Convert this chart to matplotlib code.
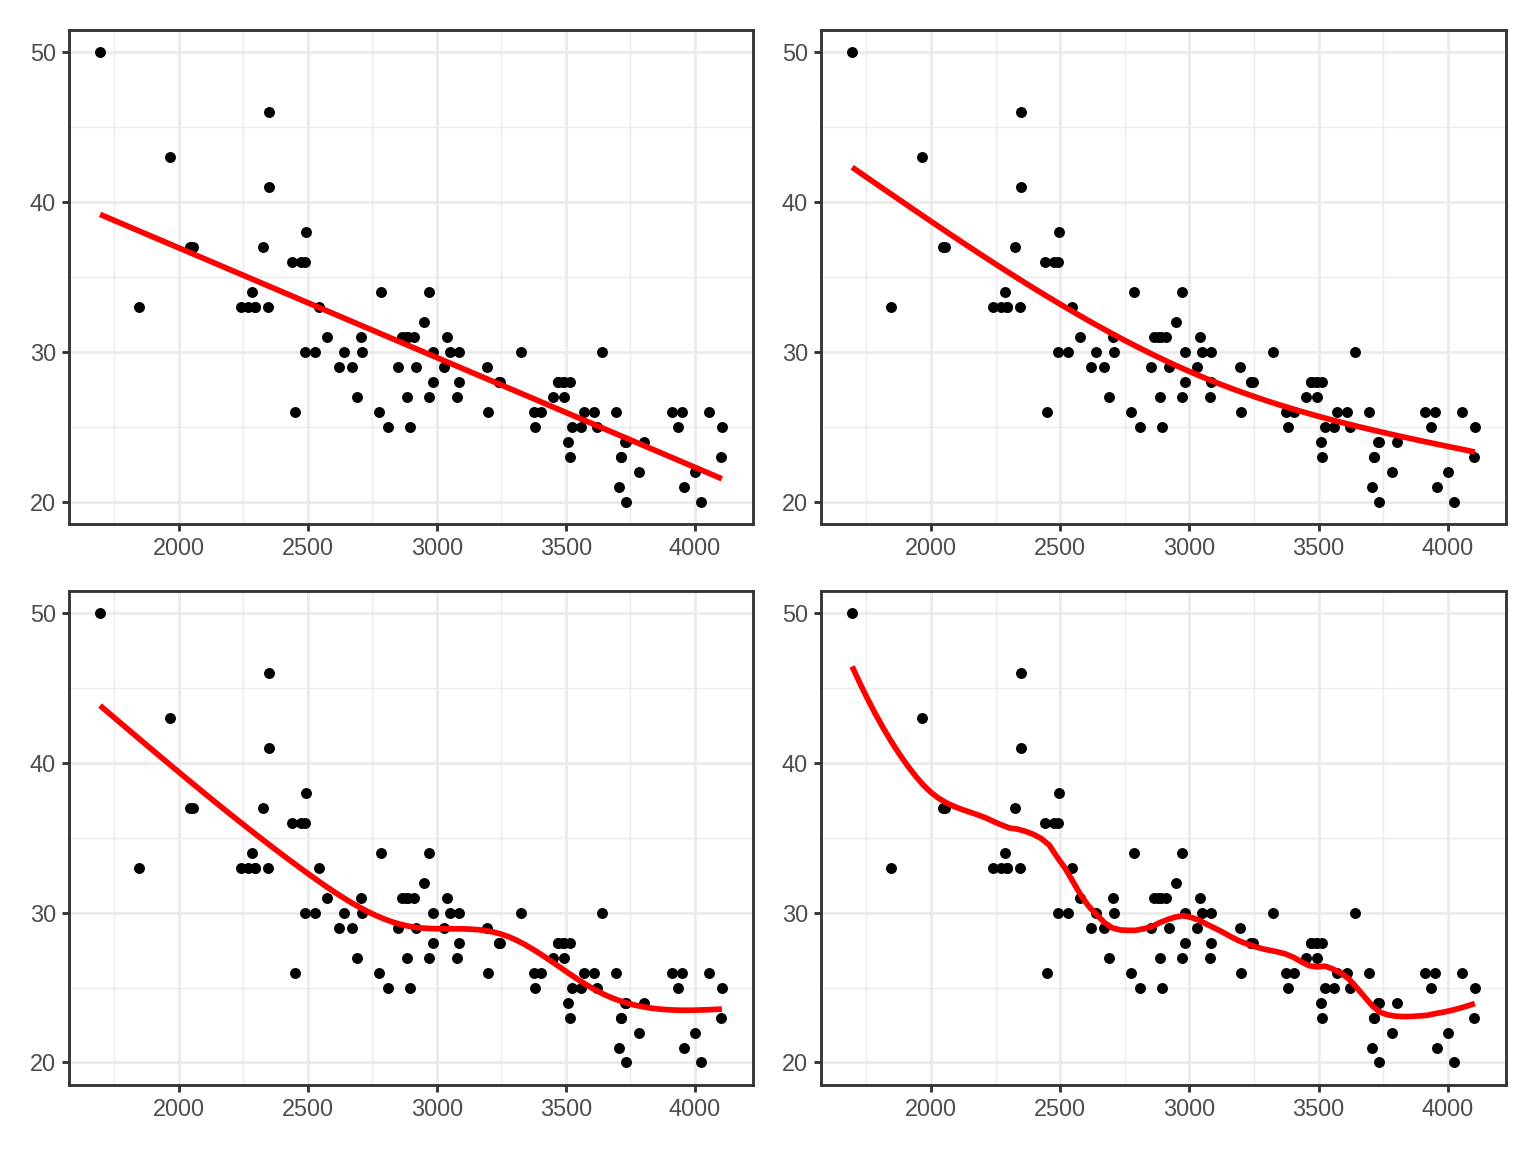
import numpy as np
import matplotlib
matplotlib.use("Agg")
import matplotlib.pyplot as plt
from matplotlib.ticker import MultipleLocator

# Cars93: Weight vs MPG.highway
weight = [2705, 3560, 3375, 3405, 3640, 2880, 3470, 4105, 3495, 3620, 3935, 2490, 2785, 3240, 3195, 3715,
          4025, 3910, 3380, 3515, 3085, 3570, 2270, 2670, 2970, 3705, 3080, 3805, 2295, 3490, 1845, 2530,
          2690, 2850, 2710, 3735, 3325, 3950, 1695, 2475, 2865, 2350, 3040, 2345, 2620, 2285, 2885, 4000,
          3510, 3515, 3695, 4055, 2325, 2440, 2970, 3735, 2895, 2920, 3525, 2450, 3610, 2295, 3730, 2545,
          3050, 4100, 3200, 2910, 2890, 3715, 3470, 2640, 2350, 2575, 3240, 3450, 3495, 2775, 2495, 2045,
          2490, 3085, 1965, 2055, 2950, 3030, 3785, 2240, 3960, 2985, 2810, 2985, 3245]
mpg_highway = [31, 25, 26, 26, 30, 31, 28, 25, 27, 25, 25, 36, 34, 28, 29, 23, 20, 26, 25, 28, 28, 26, 33, 29,
               27, 21, 27, 24, 33, 28, 33, 30, 27, 29, 30, 20, 30, 26, 50, 36, 31, 46, 31, 33, 29, 34, 27, 22,
               24, 23, 26, 26, 37, 36, 34, 24, 25, 29, 25, 26, 26, 33, 24, 33, 30, 23, 26, 31, 31, 23, 28, 30,
               41, 31, 28, 27, 28, 26, 38, 37, 30, 30, 43, 37, 32, 29, 22, 33, 21, 30, 25, 28, 28]
x_ticks = [2000, 2500, 3000, 3500, 4000]
y_ticks = [20, 30, 40, 50]

x = np.array(weight, float)
y = np.array(mpg_highway, float)
xs = np.linspace(x.min(), x.max(), 80)


def local_fit(x, y, x0, span, degree):
    n = len(x)
    d = np.abs(x - x0)
    q = int(np.floor(n * span))
    h = np.sort(d)[q - 1]
    w = np.clip(1 - (d / h) ** 3, 0, None) ** 3
    t = (x - x0) / 1000.0
    X = np.vander(t, degree + 1, increasing=True)
    sw = np.sqrt(w)
    beta = np.linalg.lstsq(X * sw[:, None], y * sw, rcond=None)[0]
    return beta[0], beta[1] / 1000.0


def loess_fit(x, y, xs, span, degree=2, cell=0.2):
    # local regression evaluated at kd-tree vertices, cubic Hermite interpolation between them
    xsrt = np.sort(x)
    n = len(x)
    fc = int(np.floor(n * span * cell))
    lo_b, hi_b = xsrt[0], xsrt[-1]
    mu = 0.005 * (hi_b - lo_b)
    verts = {lo_b - mu, hi_b + mu}
    stack = [(1, n, lo_b - mu, hi_b + mu)]
    while stack:
        L, U, a, b = stack.pop()
        if U - L + 1 <= fc:
            continue
        m = (L + U) // 2
        off = 0
        while True:
            if m + off >= U or m + off < L:
                break
            if xsrt[m + off - 1] == xsrt[m + off]:
                off = -off
                if off >= 0:
                    off += 1
            else:
                m = m + off
                break
        xm = xsrt[m - 1]
        if a == xm or b == xm:
            continue
        verts.add(xm)
        stack.append((L, m, a, xm))
        stack.append((m + 1, U, xm, b))
    vv = np.array(sorted(verts))
    vals = np.array([local_fit(x, y, v, span, degree) for v in vv])
    g, dg = vals[:, 0], vals[:, 1]
    out = []
    for z in xs:
        i = min(max(np.searchsorted(vv, z, side="right") - 1, 0), len(vv) - 2)
        h = vv[i + 1] - vv[i]
        u = (z - vv[i]) / h
        phi0 = (1 - u) ** 2 * (1 + 2 * u)
        phi1 = u ** 2 * (3 - 2 * u)
        psi0 = u * (1 - u) ** 2
        psi1 = -u ** 2 * (1 - u)
        out.append(phi0 * g[i] + phi1 * g[i + 1] + (psi0 * dg[i] + psi1 * dg[i + 1]) * h)
    return np.array(out)


def ns_fit(x, y, xs, df):
    # regression on a natural cubic spline basis (knots at quantiles)
    xx = x / 1000.0
    inner = np.quantile(xx, np.linspace(0, 1, df + 1)[1:-1])
    knots = np.r_[xx.min(), inner, xx.max()]
    K = len(knots)

    def basis(t):
        def d(k):
            return (np.clip(t - knots[k], 0, None) ** 3 - np.clip(t - knots[-1], 0, None) ** 3) / (knots[-1] - knots[k])
        cols = [np.ones_like(t), t]
        for k in range(K - 2):
            cols.append(d(k) - d(K - 2))
        return np.column_stack(cols)
    beta = np.linalg.lstsq(basis(xx), y, rcond=None)[0]
    return basis(xs / 1000.0) @ beta


def lin_fit(x, y, xs):
    c = np.polyfit(x, y, 1)
    return np.polyval(c, xs)


fits = [lin_fit(x, y, xs), ns_fit(x, y, xs, 2), ns_fit(x, y, xs, 5), loess_fit(x, y, xs, 0.3)]

plt.rcParams["font.family"] = ["Liberation Sans", "DejaVu Sans"]
fig = plt.figure(figsize=(8, 6), dpi=192)
positions = [
    (0.0449, 0.5451, 0.4453, 0.4289),
    (0.5345, 0.5451, 0.4460, 0.4289),
    (0.0449, 0.0582, 0.4453, 0.4289),
    (0.5345, 0.0582, 0.4460, 0.4289),
]
for pos, fit in zip(positions, fits):
    ax = fig.add_axes(pos)
    ax.set_xlim(1574.5, 4225.5)
    ax.set_ylim(18.5, 51.5)
    ax.set_xticks(x_ticks)
    ax.set_yticks(y_ticks)
    ax.xaxis.set_minor_locator(MultipleLocator(250))
    ax.yaxis.set_minor_locator(MultipleLocator(5))
    ax.grid(which="major", color="#EBEBEB", lw=1.07)
    ax.grid(which="minor", color="#EBEBEB", lw=0.53)
    ax.set_axisbelow(True)
    for s in ax.spines.values():
        s.set_color("#333333")
        s.set_linewidth(1.07)
    ax.tick_params(which="major", length=2.75, width=1.07, color="#333333",
                   labelsize=8.8, labelcolor="#4D4D4D", pad=2.2)
    ax.tick_params(which="minor", length=0)
    ax.scatter(x, y, s=4.1 ** 2, color="black", linewidths=0, zorder=2)
    ax.plot(xs, fit, color="red", lw=2.13, zorder=3, solid_capstyle="butt")

fig.savefig("out.png", dpi=192)
